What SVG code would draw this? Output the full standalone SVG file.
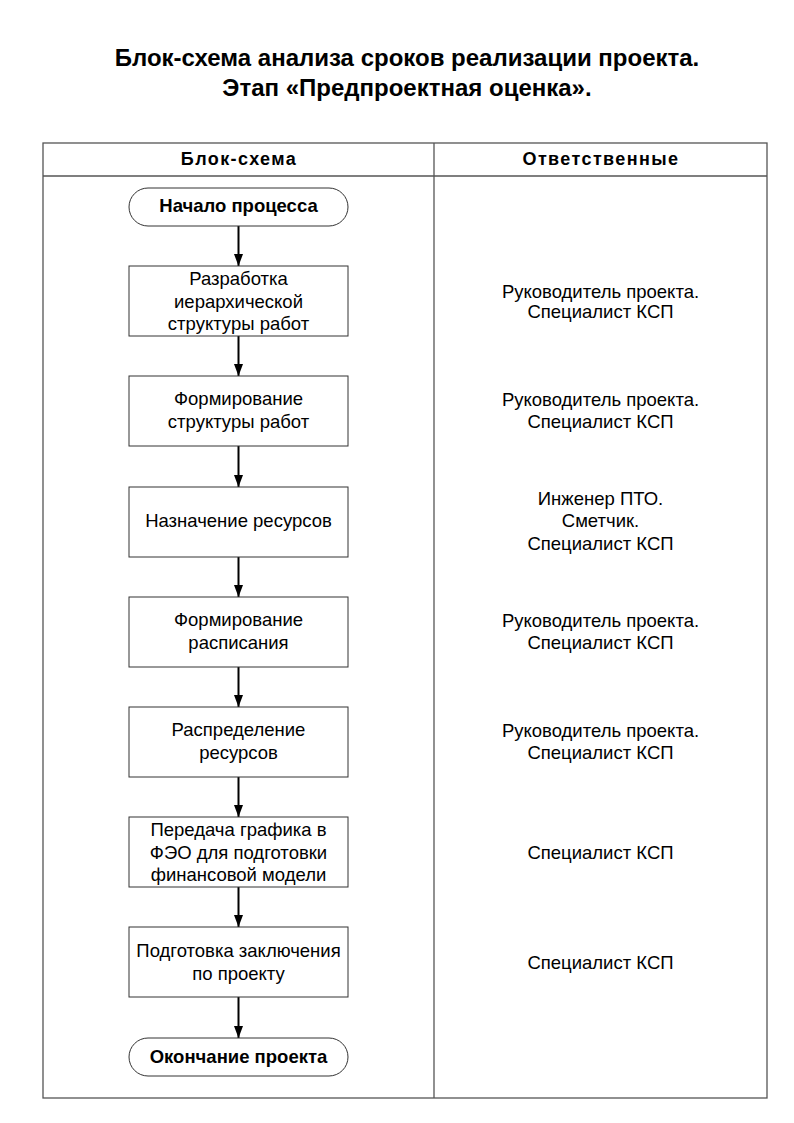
<svg xmlns="http://www.w3.org/2000/svg" width="794" height="1123" viewBox="0 0 794 1123">
<style>
text{font-family:"Liberation Sans",Arial,sans-serif;fill:#000;text-anchor:middle}
.t{font-size:24px;font-weight:bold}
.h{font-size:18px;font-weight:bold;letter-spacing:1.4px}
.n{font-size:18.5px}
.b{font-size:18.5px;font-weight:bold}
.box{fill:#fff;stroke:#333;stroke-width:1}
.grid{fill:none;stroke:#555;stroke-width:1.3}
.c{stroke:#000;stroke-width:2;fill:none;marker-end:url(#a)}
</style>
<defs>
<marker id="a" markerWidth="12" markerHeight="9" refX="12" refY="4.5" orient="auto" markerUnits="userSpaceOnUse" viewBox="0 0 12 9">
<path d="M0,0 L12,4.5 L0,9 Z" fill="#000"/>
</marker>
</defs>
<rect width="794" height="1123" fill="#fff"/>
<g id="title">
<text class="t" x="407" y="66">Блок-схема анализа сроков реализации проекта.</text>
<text class="t" x="407" y="96">Этап «Предпроектная оценка».</text>
</g>
<g id="table">
<rect class="grid" x="43" y="143" width="724" height="955"/>
<line class="grid" x1="43" y1="176" x2="767" y2="176"/>
<line class="grid" x1="434" y1="143" x2="434" y2="1098"/>
<text class="h" x="239" y="165">Блок-схема</text>
<text class="h" x="601" y="165">Ответственные</text>
</g>
<g id="connectors">
<line class="c" x1="238.5" y1="226" x2="238.5" y2="266"/>
<line class="c" x1="238.5" y1="336" x2="238.5" y2="376"/>
<line class="c" x1="238.5" y1="446" x2="238.5" y2="487"/>
<line class="c" x1="238.5" y1="557" x2="238.5" y2="597"/>
<line class="c" x1="238.5" y1="667" x2="238.5" y2="707"/>
<line class="c" x1="238.5" y1="777" x2="238.5" y2="817"/>
<line class="c" x1="238.5" y1="887" x2="238.5" y2="927"/>
<line class="c" x1="238.5" y1="997" x2="238.5" y2="1038"/>
</g>
<g id="start">
<rect class="box" x="129" y="188" width="219" height="38" rx="19"/>
<text class="b" x="238.5" y="212">Начало процесса</text>
</g>
<g id="n1">
<rect class="box" x="129" y="266" width="219" height="70"/>
<text class="n" x="238.5" y="285">Разработка</text>
<text class="n" x="238.5" y="308">иерархической</text>
<text class="n" x="238.5" y="330">структуры работ</text>
</g>
<g id="n2">
<rect class="box" x="129" y="376" width="219" height="70"/>
<text class="n" x="238.5" y="405">Формирование</text>
<text class="n" x="238.5" y="428">структуры работ</text>
</g>
<g id="n3">
<rect class="box" x="129" y="487" width="219" height="70"/>
<text class="n" x="238.5" y="527">Назначение ресурсов</text>
</g>
<g id="n4">
<rect class="box" x="129" y="597" width="219" height="70"/>
<text class="n" x="238.5" y="626">Формирование</text>
<text class="n" x="238.5" y="649">расписания</text>
</g>
<g id="n5">
<rect class="box" x="129" y="707" width="219" height="70"/>
<text class="n" x="238.5" y="736">Распределение</text>
<text class="n" x="238.5" y="759">ресурсов</text>
</g>
<g id="n6">
<rect class="box" x="129" y="817" width="219" height="70"/>
<text class="n" x="238.5" y="836">Передача графика в</text>
<text class="n" x="238.5" y="859">ФЭО для подготовки</text>
<text class="n" x="238.5" y="881">финансовой модели</text>
</g>
<g id="n7">
<rect class="box" x="129" y="927" width="219" height="70"/>
<text class="n" x="238.5" y="957">Подготовка заключения</text>
<text class="n" x="238.5" y="980">по проекту</text>
</g>
<g id="end">
<rect class="box" x="129" y="1038" width="219" height="38" rx="19"/>
<text class="b" x="238.5" y="1063">Окончание проекта</text>
</g>
<g id="responsible">
<text class="n" x="600.5" y="298">Руководитель проекта.</text>
<text class="n" x="600.5" y="318">Специалист КСП</text>
<text class="n" x="600.5" y="406">Руководитель проекта.</text>
<text class="n" x="600.5" y="428">Специалист КСП</text>
<text class="n" x="600.5" y="505">Инженер ПТО.</text>
<text class="n" x="600.5" y="527">Сметчик.</text>
<text class="n" x="600.5" y="550">Специалист КСП</text>
<text class="n" x="600.5" y="627">Руководитель проекта.</text>
<text class="n" x="600.5" y="649">Специалист КСП</text>
<text class="n" x="600.5" y="737">Руководитель проекта.</text>
<text class="n" x="600.5" y="759">Специалист КСП</text>
<text class="n" x="600.5" y="859">Специалист КСП</text>
<text class="n" x="600.5" y="969">Специалист КСП</text>
</g>
</svg>
